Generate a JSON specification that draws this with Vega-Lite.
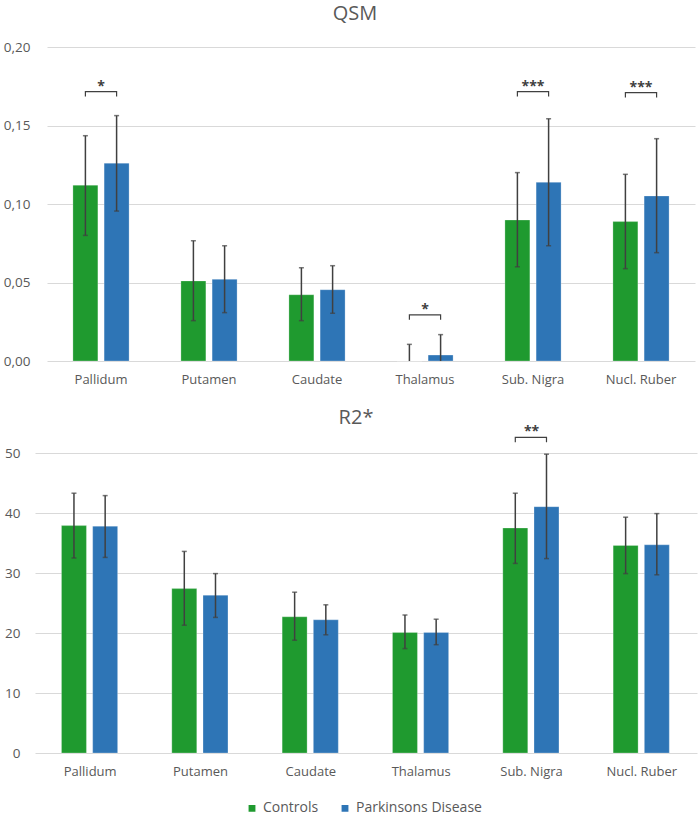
{
  "$schema": "https://vega.github.io/schema/vega-lite/v6.json",
  "padding": {"left": 3, "top": 4, "right": 5, "bottom": 2},
  "background": "white",
  "config": {
    "font": "Open Sans",
    "view": {"stroke": null},
    "axis": {"labelColor": "#595959", "labelFontSize": 13, "domain": false, "ticks": false, "title": null, "gridColor": "#d9d9d9", "gridWidth": 1},
    "title": {"color": "#595959", "fontSize": 20, "fontWeight": "normal", "offset": 16},
    "legend": {"labelColor": "#595959", "labelFontSize": 14}
  },
  "datasets": {
    "bars": [
      {"measure": "QSM", "region": "Pallidum", "group": "Controls", "mean": 0.112, "lo": 0.080, "hi": 0.1435},
      {"measure": "QSM", "region": "Pallidum", "group": "Parkinsons Disease", "mean": 0.126, "lo": 0.0955, "hi": 0.1563},
      {"measure": "QSM", "region": "Putamen", "group": "Controls", "mean": 0.051, "lo": 0.0257, "hi": 0.0766},
      {"measure": "QSM", "region": "Putamen", "group": "Parkinsons Disease", "mean": 0.052, "lo": 0.0308, "hi": 0.0734},
      {"measure": "QSM", "region": "Caudate", "group": "Controls", "mean": 0.0422, "lo": 0.0257, "hi": 0.0594},
      {"measure": "QSM", "region": "Caudate", "group": "Parkinsons Disease", "mean": 0.0454, "lo": 0.0304, "hi": 0.0607},
      {"measure": "QSM", "region": "Thalamus", "group": "Controls", "mean": 0.0, "lo": 0.0, "hi": 0.0106},
      {"measure": "QSM", "region": "Thalamus", "group": "Parkinsons Disease", "mean": 0.0038, "lo": 0.0, "hi": 0.0168},
      {"measure": "QSM", "region": "Sub. Nigra", "group": "Controls", "mean": 0.0898, "lo": 0.060, "hi": 0.120},
      {"measure": "QSM", "region": "Sub. Nigra", "group": "Parkinsons Disease", "mean": 0.1138, "lo": 0.0734, "hi": 0.1543},
      {"measure": "QSM", "region": "Nucl. Ruber", "group": "Controls", "mean": 0.0888, "lo": 0.0588, "hi": 0.1189},
      {"measure": "QSM", "region": "Nucl. Ruber", "group": "Parkinsons Disease", "mean": 0.1051, "lo": 0.069, "hi": 0.1416},
      {"measure": "R2*", "region": "Pallidum", "group": "Controls", "mean": 37.9, "lo": 32.5, "hi": 43.3},
      {"measure": "R2*", "region": "Pallidum", "group": "Parkinsons Disease", "mean": 37.8, "lo": 32.6, "hi": 42.9},
      {"measure": "R2*", "region": "Putamen", "group": "Controls", "mean": 27.4, "lo": 21.3, "hi": 33.6},
      {"measure": "R2*", "region": "Putamen", "group": "Parkinsons Disease", "mean": 26.3, "lo": 22.6, "hi": 29.9},
      {"measure": "R2*", "region": "Caudate", "group": "Controls", "mean": 22.7, "lo": 18.8, "hi": 26.8},
      {"measure": "R2*", "region": "Caudate", "group": "Parkinsons Disease", "mean": 22.2, "lo": 19.7, "hi": 24.7},
      {"measure": "R2*", "region": "Thalamus", "group": "Controls", "mean": 20.1, "lo": 17.4, "hi": 23.0},
      {"measure": "R2*", "region": "Thalamus", "group": "Parkinsons Disease", "mean": 20.1, "lo": 18.05, "hi": 22.3},
      {"measure": "R2*", "region": "Sub. Nigra", "group": "Controls", "mean": 37.5, "lo": 31.6, "hi": 43.3},
      {"measure": "R2*", "region": "Sub. Nigra", "group": "Parkinsons Disease", "mean": 41.05, "lo": 32.4, "hi": 49.8},
      {"measure": "R2*", "region": "Nucl. Ruber", "group": "Controls", "mean": 34.6, "lo": 29.9, "hi": 39.3},
      {"measure": "R2*", "region": "Nucl. Ruber", "group": "Parkinsons Disease", "mean": 34.7, "lo": 29.7, "hi": 39.9}
    ],
    "brackets": [
      {"measure": "QSM", "region": "Pallidum", "group": "Controls", "seq": 1, "y": 0.1684},
      {"measure": "QSM", "region": "Pallidum", "group": "Controls", "seq": 2, "y": 0.1716},
      {"measure": "QSM", "region": "Pallidum", "group": "Parkinsons Disease", "seq": 3, "y": 0.1716},
      {"measure": "QSM", "region": "Pallidum", "group": "Parkinsons Disease", "seq": 4, "y": 0.1684},
      {"measure": "QSM", "region": "Thalamus", "group": "Controls", "seq": 1, "y": 0.0262},
      {"measure": "QSM", "region": "Thalamus", "group": "Controls", "seq": 2, "y": 0.0294},
      {"measure": "QSM", "region": "Thalamus", "group": "Parkinsons Disease", "seq": 3, "y": 0.0294},
      {"measure": "QSM", "region": "Thalamus", "group": "Parkinsons Disease", "seq": 4, "y": 0.0262},
      {"measure": "QSM", "region": "Sub. Nigra", "group": "Controls", "seq": 1, "y": 0.1684},
      {"measure": "QSM", "region": "Sub. Nigra", "group": "Controls", "seq": 2, "y": 0.1716},
      {"measure": "QSM", "region": "Sub. Nigra", "group": "Parkinsons Disease", "seq": 3, "y": 0.1716},
      {"measure": "QSM", "region": "Sub. Nigra", "group": "Parkinsons Disease", "seq": 4, "y": 0.1684},
      {"measure": "QSM", "region": "Nucl. Ruber", "group": "Controls", "seq": 1, "y": 0.1678},
      {"measure": "QSM", "region": "Nucl. Ruber", "group": "Controls", "seq": 2, "y": 0.171},
      {"measure": "QSM", "region": "Nucl. Ruber", "group": "Parkinsons Disease", "seq": 3, "y": 0.171},
      {"measure": "QSM", "region": "Nucl. Ruber", "group": "Parkinsons Disease", "seq": 4, "y": 0.1678},
      {"measure": "R2*", "region": "Sub. Nigra", "group": "Controls", "seq": 1, "y": 51.8},
      {"measure": "R2*", "region": "Sub. Nigra", "group": "Controls", "seq": 2, "y": 52.6},
      {"measure": "R2*", "region": "Sub. Nigra", "group": "Parkinsons Disease", "seq": 3, "y": 52.6},
      {"measure": "R2*", "region": "Sub. Nigra", "group": "Parkinsons Disease", "seq": 4, "y": 51.8}
    ],
    "stars": [
      {"measure": "QSM", "region": "Pallidum", "label": "*", "y": 0.1716},
      {"measure": "QSM", "region": "Thalamus", "label": "*", "y": 0.0294},
      {"measure": "QSM", "region": "Sub. Nigra", "label": "***", "y": 0.1716},
      {"measure": "QSM", "region": "Nucl. Ruber", "label": "***", "y": 0.171},
      {"measure": "R2*", "region": "Sub. Nigra", "label": "**", "y": 52.6}
    ]
  },
  "vconcat": [
    {
      "title": {"text": "QSM", "dx": -16},
      "width": 648,
      "height": 314,
      "encoding": {
        "x": {"field": "region", "type": "nominal", "sort": ["Pallidum", "Putamen", "Caudate", "Thalamus", "Sub. Nigra", "Nucl. Ruber"], "scale": {"paddingInner": 0.48, "paddingOuter": 0.24}, "axis": {"labelAngle": 0, "labelPadding": 12, "grid": false}}
      },
      "layer": [
        {
          "data": {"name": "bars"},
          "transform": [{"filter": "datum.measure === 'QSM'"}],
          "mark": {"type": "bar", "stroke": "white", "strokeOpacity": 0.25, "strokeWidth": 1},
          "encoding": {
            "xOffset": {"field": "group", "type": "nominal", "scale": {"paddingInner": 0.2, "paddingOuter": 0}},
            "y": {"field": "mean", "type": "quantitative", "scale": {"domain": [0, 0.2]}, "axis": {"values": [0, 0.05, 0.1, 0.15, 0.2], "labelExpr": "replace(format(datum.value, '.2f'), '.', ',')", "labelPadding": 17, "labelFontSize": 13.5}},
            "color": {"field": "group", "type": "nominal", "scale": {"domain": ["Controls", "Parkinsons Disease"], "range": ["#1f9a2f", "#2e75b6"]}, "legend": {"title": null, "orient": "none", "legendX": 198, "legendY": 754, "direction": "horizontal", "symbolType": "square", "symbolSize": 70, "columnPadding": 18, "labelOffset": 4}}
          }
        },
        {
          "data": {"name": "bars"},
          "transform": [{"filter": "datum.measure === 'QSM'"}],
          "mark": {"type": "rule", "color": "#404040", "strokeWidth": 1.5},
          "encoding": {"xOffset": {"field": "group", "type": "nominal"}, "y": {"field": "lo", "type": "quantitative"}, "y2": {"field": "hi"}}
        },
        {
          "data": {"name": "bars"},
          "transform": [{"filter": "datum.measure === 'QSM'"}],
          "mark": {"type": "tick", "color": "#404040", "size": 5, "thickness": 1.5},
          "encoding": {"xOffset": {"field": "group", "type": "nominal"}, "y": {"field": "hi", "type": "quantitative"}}
        },
        {
          "data": {"name": "bars"},
          "transform": [{"filter": "datum.measure === 'QSM' && datum.lo > 0"}],
          "mark": {"type": "tick", "color": "#404040", "size": 5, "thickness": 1.5},
          "encoding": {"xOffset": {"field": "group", "type": "nominal"}, "y": {"field": "lo", "type": "quantitative"}}
        },
        {
          "data": {"name": "brackets"},
          "transform": [{"filter": "datum.measure === 'QSM'"}],
          "mark": {"type": "line", "color": "#404040", "strokeWidth": 1.2, "clip": false},
          "encoding": {"xOffset": {"field": "group", "type": "nominal"}, "y": {"field": "y", "type": "quantitative"}, "detail": {"field": "region"}, "order": {"field": "seq"}}
        },
        {
          "data": {"name": "stars"},
          "transform": [{"filter": "datum.measure === 'QSM'"}],
          "mark": {"type": "text", "color": "#404040", "fontSize": 14, "dy": 2, "baseline": "bottom", "fontWeight": "bold"},
          "encoding": {"y": {"field": "y", "type": "quantitative"}, "text": {"field": "label"}}
        }
      ]
    },
    {
      "title": {"text": "R2*", "offset": -3, "dx": -16},
      "width": 650,
      "height": 300,
      "encoding": {
        "x": {"field": "region", "type": "nominal", "sort": ["Pallidum", "Putamen", "Caudate", "Thalamus", "Sub. Nigra", "Nucl. Ruber"], "scale": {"range": [-12, 650], "paddingInner": 0.48, "paddingOuter": 0.24}, "axis": {"labelAngle": 0, "labelPadding": 12, "grid": false}}
      },
      "layer": [
        {
          "data": {"name": "bars"},
          "transform": [{"filter": "datum.measure === 'R2*'"}],
          "mark": {"type": "bar", "stroke": "white", "strokeOpacity": 0.25, "strokeWidth": 1},
          "encoding": {
            "xOffset": {"field": "group", "type": "nominal", "scale": {"paddingInner": 0.2, "paddingOuter": 0}},
            "y": {"field": "mean", "type": "quantitative", "scale": {"domain": [0, 50]}, "axis": {"values": [0, 10, 20, 30, 40, 50], "labelPadding": 27, "labelFontSize": 13.5}},
            "color": {"field": "group", "type": "nominal", "scale": {"domain": ["Controls", "Parkinsons Disease"], "range": ["#1f9a2f", "#2e75b6"]}, "legend": {"title": null, "orient": "none", "legendX": 198, "legendY": 754, "direction": "horizontal", "symbolType": "square", "symbolSize": 70, "columnPadding": 18, "labelOffset": 4}}
          }
        },
        {
          "data": {"name": "bars"},
          "transform": [{"filter": "datum.measure === 'R2*'"}],
          "mark": {"type": "rule", "color": "#404040", "strokeWidth": 1.5},
          "encoding": {"xOffset": {"field": "group", "type": "nominal"}, "y": {"field": "lo", "type": "quantitative"}, "y2": {"field": "hi"}}
        },
        {
          "data": {"name": "bars"},
          "transform": [{"filter": "datum.measure === 'R2*'"}],
          "mark": {"type": "tick", "color": "#404040", "size": 5, "thickness": 1.5},
          "encoding": {"xOffset": {"field": "group", "type": "nominal"}, "y": {"field": "hi", "type": "quantitative"}}
        },
        {
          "data": {"name": "bars"},
          "transform": [{"filter": "datum.measure === 'R2*'"}],
          "mark": {"type": "tick", "color": "#404040", "size": 5, "thickness": 1.5},
          "encoding": {"xOffset": {"field": "group", "type": "nominal"}, "y": {"field": "lo", "type": "quantitative"}}
        },
        {
          "data": {"name": "brackets"},
          "transform": [{"filter": "datum.measure === 'R2*'"}],
          "mark": {"type": "line", "color": "#404040", "strokeWidth": 1.2, "clip": false},
          "encoding": {"xOffset": {"field": "group", "type": "nominal"}, "y": {"field": "y", "type": "quantitative"}, "detail": {"field": "region"}, "order": {"field": "seq"}}
        },
        {
          "data": {"name": "stars"},
          "transform": [{"filter": "datum.measure === 'R2*'"}],
          "mark": {"type": "text", "color": "#404040", "fontSize": 14, "dy": 2, "baseline": "bottom", "fontWeight": "bold"},
          "encoding": {"y": {"field": "y", "type": "quantitative"}, "text": {"field": "label"}}
        }
      ]
    }
  ],
  "spacing": 22
}
